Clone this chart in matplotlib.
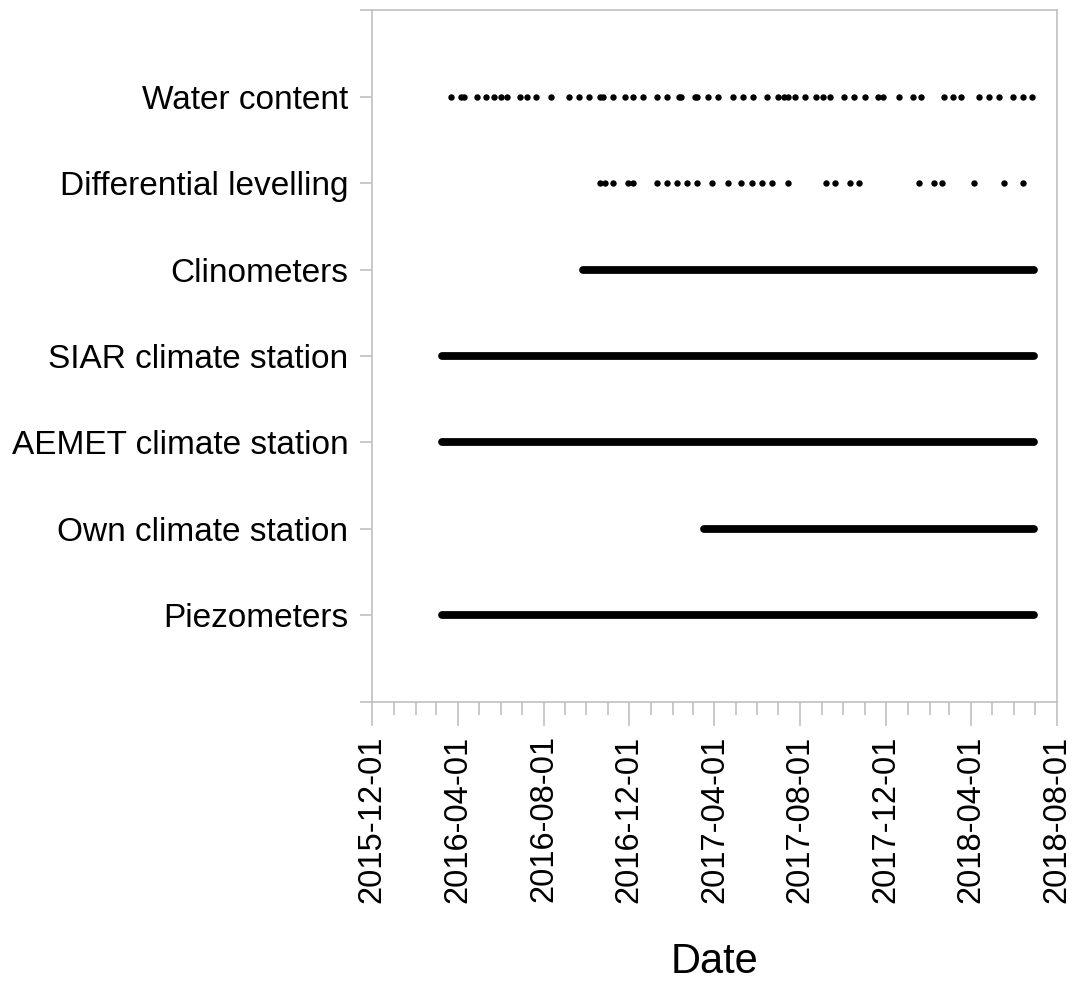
import matplotlib
matplotlib.use("Agg")
import matplotlib.pyplot as plt
import matplotlib.dates as mdates
import pandas as pd

plt.rcParams['font.family'] = ['Liberation Sans', 'DejaVu Sans']

# Monitoring records, listed bottom to top on the y axis
categories = ["Piezometers", "Own climate station", "AEMET climate station",
              "SIAR climate station", "Clinometers", "Differential levelling",
              "Water content"]

# Continuous records: (start, end)
continuous = {
    "Piezometers": ("2016-03-10", "2018-06-30"),
    "Own climate station": ("2017-03-17", "2018-06-30"),
    "AEMET climate station": ("2016-03-10", "2018-06-30"),
    "SIAR climate station": ("2016-03-10", "2018-06-30"),
    "Clinometers": ("2016-09-26", "2018-06-30"),
}

# Field campaign dates
water_content_dates = [
    "2016-03-22", "2016-04-05", "2016-04-10", "2016-04-29", "2016-05-11",
    "2016-05-23", "2016-06-02", "2016-06-10", "2016-06-28", "2016-07-08",
    "2016-07-21", "2016-08-12", "2016-09-06", "2016-09-21", "2016-10-05",
    "2016-10-20", "2016-10-25", "2016-11-08", "2016-11-25", "2016-12-06",
    "2016-12-20", "2017-01-09", "2017-01-24", "2017-02-10", "2017-02-13",
    "2017-03-04", "2017-03-07", "2017-03-23", "2017-04-06", "2017-04-27",
    "2017-05-11", "2017-05-26", "2017-06-15", "2017-06-30", "2017-07-09",
    "2017-07-15", "2017-07-24", "2017-08-07", "2017-08-24", "2017-09-02",
    "2017-09-12", "2017-10-02", "2017-10-17", "2017-11-01", "2017-11-19",
    "2017-11-26", "2017-12-20", "2018-01-08", "2018-01-20", "2018-02-21",
    "2018-03-06", "2018-03-18", "2018-04-12", "2018-04-26", "2018-05-11",
    "2018-05-30", "2018-06-14", "2018-06-27",
]
levelling_dates = [
    "2016-10-20", "2016-10-27", "2016-11-08", "2016-11-29", "2016-12-06",
    "2017-01-09", "2017-01-23", "2017-02-07", "2017-02-21", "2017-03-07",
    "2017-03-29", "2017-04-20", "2017-05-09", "2017-05-24", "2017-06-08",
    "2017-06-22", "2017-07-14", "2017-09-07", "2017-09-19", "2017-10-10",
    "2017-10-24", "2018-01-17", "2018-02-07", "2018-02-19", "2018-04-05",
    "2018-05-18", "2018-06-13",
]

x_start, x_end = "2015-12-01", "2018-08-01"

fig = plt.figure(figsize=(10.8, 9.83), dpi=100)
ax = fig.add_axes([0.3444, 0.2859, 0.9787 - 0.3444, 0.9898 - 0.2859])

ypos = {name: i + 1 for i, name in enumerate(categories)}

for name, (s, e) in continuous.items():
    ax.plot(pd.to_datetime([s, e]), [ypos[name]] * 2, color="black",
            linewidth=5.6, solid_capstyle="round")

wc = pd.to_datetime(water_content_dates)
ax.plot(wc, [ypos["Water content"]] * len(wc), "o", color="black",
        markersize=4.6, markeredgewidth=0)
dl = pd.to_datetime(levelling_dates)
ax.plot(dl, [ypos["Differential levelling"]] * len(dl), "o", color="black",
        markersize=4.6, markeredgewidth=0)

ax.set_xlim(pd.Timestamp(x_start), pd.Timestamp(x_end))
ax.set_ylim(0, len(categories) + 1)

grey = "#c0c0c0"
for sp in ax.spines.values():
    sp.set_color(grey)
    sp.set_linewidth(1.2)

ax.set_yticks(range(0, len(categories) + 2))
ax.set_yticklabels([""] + categories + [""])
ax.tick_params(axis="y", length=9, width=1.2, color=grey, labelsize=24, pad=8)

ax.xaxis.set_major_locator(mdates.MonthLocator(bymonth=[4, 8, 12]))
ax.xaxis.set_minor_locator(mdates.MonthLocator())
ax.xaxis.set_major_formatter(mdates.DateFormatter("%Y-%m-%d"))
ax.tick_params(axis="x", which="major", length=17, width=1.2, color=grey,
               labelsize=23.5, labelrotation=90, pad=7)
ax.tick_params(axis="x", which="minor", length=9, width=1.2, color=grey)

ax.set_xlabel("Date", fontsize=30, labelpad=28)

fig.savefig("out.png", dpi=100, facecolor="white")
